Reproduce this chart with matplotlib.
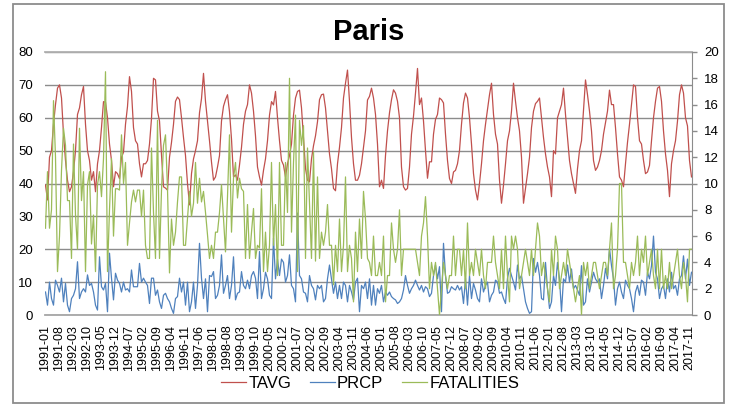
import matplotlib
matplotlib.use("Agg")
import matplotlib.pyplot as plt
from matplotlib.patches import Rectangle

plt.rcParams['font.family'] = ['Liberation Sans', 'DejaVu Sans']

# monthly series, 1991-01 .. 2017-12
start_year = 1991

tavg = [
    39.5, 35, 48, 50, 58, 64, 69, 70, 66, 55, 47, 41,          # 1991
    37.5, 39, 43.6, 50, 61, 63, 67, 69.5, 58, 50, 47, 41,
    43.6, 37.5, 46, 50, 57, 64.9, 64.7, 60, 52, 47, 39, 43.6,
    43, 41.5, 48, 49.5, 58, 63.4, 72.5, 68, 57, 53, 52, 46,
    42, 46, 46, 47, 52, 59.8, 72, 71.5, 62, 59, 48.7, 39,      # 1995
    38.6, 38, 48, 52.5, 58, 65, 66.3, 65.5, 60, 54, 48.5, 40,
    33.5, 43, 47.5, 50, 53, 61.5, 65.8, 73.5, 65, 59, 53, 46.5,
    41, 42, 45, 48.5, 59, 63.5, 65.5, 67, 61.8, 53.5, 42, 42.6,
    41, 45.6, 51, 58, 62, 64, 70, 67.5, 62, 54.5, 45, 42,
    39.5, 44, 47.5, 53, 60.8, 64.9, 63.9, 68, 60, 53, 47, 45.6,  # 2000
    42, 46, 48.5, 52, 60.8, 66, 68, 68.4, 63, 54, 44.6, 41,
    40.5, 47.5, 51.5, 54.5, 58.8, 65.5, 67, 67.2, 63, 56, 49, 44.5,
    38.5, 37.8, 46, 51, 57, 66, 70.5, 74.5, 65, 54, 46, 41,
    41, 42.5, 46, 51, 56, 65.4, 66.5, 69, 66, 61, 52, 39,
    41, 38.5, 48.5, 56, 61.5, 65.5, 68.5, 67.5, 65, 60, 45, 39,  # 2005
    38, 38.5, 45, 55, 60.5, 67.5, 75, 64, 66, 59, 50, 41.6,
    46.6, 46.6, 55, 59.5, 61, 66, 65.5, 64.5, 55, 47, 41.5, 40,
    43.5, 44, 46, 50, 58, 64.5, 67.5, 66, 60, 52, 43, 38,
    35, 40, 46, 53, 58, 62.5, 67, 70.5, 61, 55, 52, 41,
    34, 39.5, 46, 53, 56, 62, 70.5, 65, 60, 56, 48, 34,        # 2010
    38.5, 43, 48, 57, 62, 64.3, 65, 66, 60, 54, 49, 45,
    42, 36, 50, 49, 60, 62, 64, 69, 61, 54, 47, 43,
    40, 37, 44.5, 50, 53, 62, 71.5, 67, 62, 56, 47, 44,
    45, 47, 50, 55, 58.5, 62, 68.4, 64, 64, 57, 49, 42,
    41, 39, 46, 52.5, 58, 64, 70, 69.5, 60, 53, 52, 47,        # 2015
    43, 43.5, 45.5, 53, 60, 65, 69, 69.5, 65, 56, 49, 44,
    36, 46, 50, 53, 59, 67, 70, 67.5, 60, 57.5, 47, 42,
]

prcp = [
    7, 3, 10, 5, 3, 10.6, 9, 7, 11.2, 4, 9.6, 3, 1, 5, 6, 8, 16.2, 5, 7, 8,
    7, 12.2, 9, 9.6, 7, 3, 1.5, 17.7, 8.6, 7.6, 9.6, 1, 18.8, 11.2, 4.6, 12.7, 10.6, 9.6, 7, 10,
    7.6, 8, 7, 13.7, 8.6, 8.6, 8.6, 15.7, 10, 11.2, 10, 9, 3.5, 11.2,
    11.2, 6, 7.6, 4, 2, 6, 6.6, 5, 4, 2, 0.5, 5, 5.6, 11.2, 7, 10, 3, 10, 1, 4,
    10, 2, 9, 21.8, 11.2, 5, 11, 1, 12, 11.7, 13.2, 5, 6, 9, 18.3, 6.6, 9, 12, 5, 9,
    17.7, 4.6, 6.6, 7, 13.2, 9, 8, 10.6, 8, 12, 13.2, 11.2, 5, 19.3,
    5, 8, 13, 11, 6, 5, 23.4, 11, 17, 12, 17, 16, 10, 12, 18.3, 9, 8, 4, 31, 12,
    11, 7, 6.6, 4, 12, 9, 8, 4.6, 9, 8, 9, 4, 5, 11, 15.2, 11, 6.6, 10, 5, 9,
    5, 10, 9, 4, 9, 7, 4.6, 10, 11.2, 1, 9, 8, 10, 5,
    11, 3, 9, 3, 8, 6.6, 9, 4, 7, 6, 7, 5.6, 5, 4.6, 3.5, 4, 5, 7.6, 12, 9,
    6.6, 8, 9, 10.6, 9, 7.6, 9, 7, 8.6, 8, 5.6, 6.6, 12, 15.2, 11, 14.7, 1, 21.8, 12, 6.6,
    7, 8.6, 8, 7.6, 9, 7.6, 8.6, 3.5, 11.2, 3, 12, 5, 9.6, 7.6,
    5, 4, 11, 7, 9, 10, 4, 6, 7, 10.6, 10, 6.6, 7, 5, 3.5, 11.2, 14.2, 12, 10, 7.6,
    15.2, 11, 12, 8, 4, 2, 0.5, 1, 17.2, 13, 16, 12, 5, 4.6, 16, 8, 2, 4, 12, 9,
    16, 11, 1, 11, 10, 15.2, 10, 14, 8, 9, 7.6, 6, 15, 3,
    4, 11, 7, 10, 13, 11, 10, 11, 5, 9, 14.2, 11, 20.3, 15, 11, 3, 8, 10, 7, 5,
    10.6, 9, 8, 5, 1, 7, 9, 6, 10.6, 10, 6, 13, 11, 15, 24, 13, 11, 5, 8, 9,
    5, 11, 7, 13, 8, 9, 6, 11, 12, 18, 11, 17, 9, 13,
]

fatalities = [
    6.6, 10.9, 6.6, 8, 16.3, 12, 3.3, 6, 11, 14.2, 12.9, 8.7, 8.7, 4.3, 13, 7.6, 5, 14.2, 8.7, 10.9,
    3.3, 9.9, 10.9, 5.4, 7.6, 3.3, 9.9, 10.9, 9, 11.9, 18.5, 3.3, 8, 11.9, 6, 9.6, 9.6, 9.5, 13.7, 10,
    11.6, 5.3, 7, 8.6, 9.5, 8.6, 9.5, 9.5, 7.5, 9.5, 5.3, 4.3, 4.3, 12.7,
    7.8, 4.3, 14.8, 4.3, 9.5, 12.9, 13.7, 9.6, 3.2, 7.3, 5.3, 6.3, 8.6, 10.5, 10.5, 5.3, 5.3, 7.3, 9.4, 7.5,
    8.5, 11.6, 8.5, 10.4, 8.6, 9.4, 7.8, 6.1, 4.3, 5.3, 4.3, 6.3, 6.3, 7.8, 9.9, 7.3, 4.8, 9, 13.7, 6.3,
    10.4, 11.6, 8.9, 10.4, 9.6, 9.4, 4.3, 8.4, 4.3, 6.3, 8.1, 4.3, 5.3, 5.1,
    9.6, 3.3, 6.3, 3.3, 5.3, 11.6, 5.3, 8.4, 3, 11.6, 5.3, 5.3, 11.6, 7.8, 18, 6.3, 11.6, 15.2, 3.3, 14.8,
    12.9, 14.4, 4.3, 12.7, 8.4, 4.3, 12.4, 4.1, 10.5, 4.3, 6.3, 5.3, 6.3, 8.4, 5.3, 5.3, 2.3, 5.3, 3.3, 7.3,
    3.3, 5.3, 10.5, 3.3, 5.3, 4.3, 1, 6.3, 3.3, 7.3, 4.3, 9.4, 7.3, 4.3,
    4, 3, 6, 3, 3, 4, 3, 6, 1, 3, 3, 7, 5, 4, 5, 8, 3, 5, 5, 5,
    5, 5, 5, 5, 4, 3, 6, 7, 9, 6, 2, 4, 3, 4, 2, 0, 2, 4, 3, 2,
    3, 3, 6, 3, 5, 5, 3, 5, 2, 7, 3, 4, 3, 5,
    4, 3, 5, 3, 2, 4, 4, 4, 6, 4, 3, 2, 5, 2, 6, 3, 1, 6, 5, 6,
    5, 2, 3, 4, 5, 4, 3, 5, 3, 5, 7, 6, 3, 4, 3, 2, 1, 5, 3, 6,
    5, 2, 3, 4, 3, 5, 4, 3, 2, 1, 2, 3, 0, 4,
    3, 4, 2, 3, 4, 4, 3, 2, 3, 4, 4, 3, 5, 7, 2, 3, 5, 10, 10,
    4, 4, 3, 2, 4, 3, 4, 6, 3, 5, 4, 6, 3, 4, 5, 3, 2, 5, 2, 5,
    2, 3, 2, 4, 2, 3, 4, 5, 3, 2, 4, 3, 1, 5, 5,
]

months = [f"{start_year + k // 12}-{k % 12 + 1:02d}" for k in range(len(tavg))]
x = list(range(len(tavg)))
label_step = 7

W, H = 733, 407
fig = plt.figure(figsize=(W / 100, H / 100), dpi=100)

# chart area border
fig.patches.append(Rectangle((13 / W, 1 - 403 / H), 711 / W, 399 / H,
                             transform=fig.transFigure, fill=False,
                             ec='#8c8c8c', lw=1.3))

ax = fig.add_axes([45 / W, 1 - 315 / H, 647 / W, 263 / H])
ax2 = ax.twinx()

l1, = ax.plot(x, tavg, color='#c0504d', lw=0.9, label='TAVG')
l2, = ax.plot(x, prcp, color='#4f81bd', lw=0.9, label='PRCP')
l3, = ax2.plot(x, fatalities, color='#9bbb59', lw=0.9, label='FATALITIES')

ax.set_xlim(-0.25, len(x) - 0.75)
ax.set_ylim(0, 80)
ax.set_yticks(range(0, 81, 10))
ax2.set_ylim(0, 20)
ax2.set_yticks(range(0, 21, 2))

ax.set_xticks(x[::label_step])
ax.set_xticklabels(months[::label_step], rotation=90)

ax.yaxis.grid(True, color='#8c8c8c', lw=1)
ax.set_axisbelow(True)

for s in ['left', 'right']:
    ax.spines[s].set_visible(False)
ax.spines['top'].set_color('#b0b0b0')
ax.spines['top'].set_linewidth(1.3)
ax.spines['bottom'].set_color('#a6a6a6')
ax.spines['bottom'].set_linewidth(1.3)
for s in ['left', 'top', 'bottom']:
    ax2.spines[s].set_visible(False)
ax2.spines['right'].set_color('#8c8c8c')

ax.tick_params(axis='y', length=0, pad=8.5, labelsize=9.5)
ax.tick_params(axis='x', length=0, pad=7, labelsize=9)
ax2.tick_params(axis='y', length=3.6, pad=5, labelsize=9.5, color='#8c8c8c', width=1)

fig.text(368.5 / W, 1 - 32 / H, 'Paris', ha='center', va='center',
         fontsize=21, fontweight='bold')

fig.legend(handles=[l1, l2, l3], loc='center', bbox_to_anchor=(370 / W, 1 - 383 / H),
           ncol=3, frameon=False, fontsize=12, handlelength=1.5,
           handletextpad=0.15, columnspacing=1.1)

fig.savefig('out.png', dpi=100)
